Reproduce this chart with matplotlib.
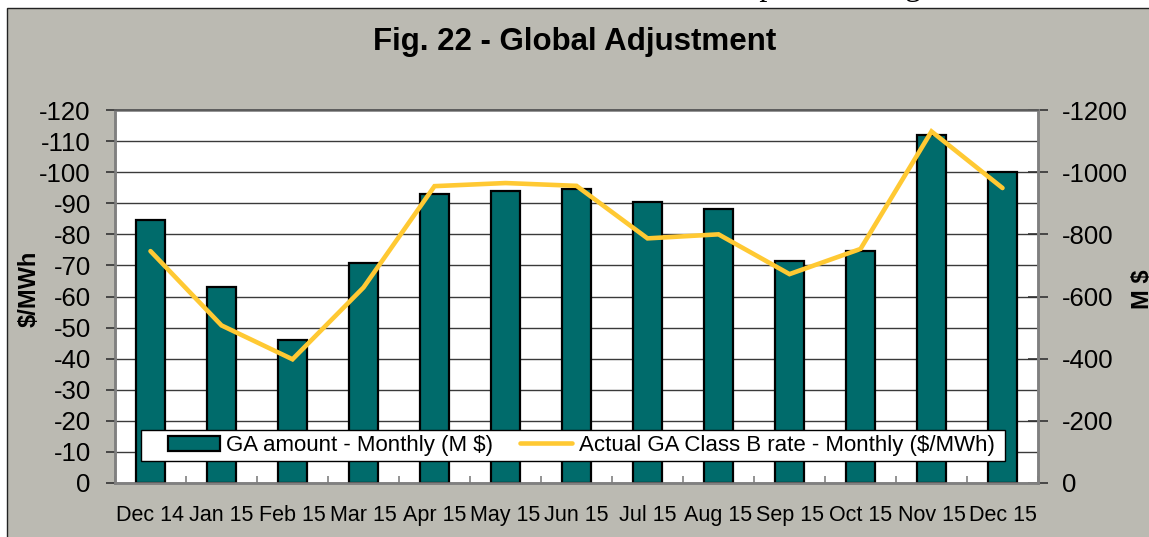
import matplotlib
matplotlib.use("Agg")
import matplotlib.pyplot as plt
import numpy as np
from matplotlib.patches import Rectangle

plt.rcParams['font.family'] = ['Liberation Sans', 'DejaVu Sans']
plt.rcParams['axes.unicode_minus'] = False

months = ["Dec 14", "Jan 15", "Feb 15", "Mar 15", "Apr 15", "May 15", "Jun 15",
          "Jul 15", "Aug 15", "Sep 15", "Oct 15", "Nov 15", "Dec 15"]
ga_amount = [-846, -630, -460, -708, -930, -940, -945, -905, -880, -715, -745, -1120, -1000]
ga_rate = [-74.6, -50.7, -39.8, -62.9, -95.5, -96.5, -95.6, -78.7, -80.0, -67.2, -75.3, -113.1, -94.9]
left_ticks = list(range(0, -121, -10))
right_ticks = list(range(0, -1201, -200))
right_minor = list(range(0, -1201, -100))
top_text = "e total GA amount and the actual Class B rate are depicted in Fig. 22."

W, H = 1149, 537
fig = plt.figure(figsize=(W / 100, H / 100), dpi=100)
fig.patch.set_facecolor('white')

# gray chart frame
frame = Rectangle((7 / W, -0.05), 1.1, (H - 8) / H + 0.05, transform=fig.transFigure,
                  facecolor='#BBBAB2', edgecolor='#222222', linewidth=1.0, zorder=-10)
fig.patches.append(frame)

# partial document text at top, mostly cut off
fig.text(90 / W, 1 + 5.0 / H, top_text, family='Liberation Serif', fontsize=23,
         va='baseline', ha='left', color='black')

rect = [115 / W, 1 - 483 / H, (1038 - 115) / W, (483 - 110) / H]
ax = fig.add_axes(rect)
axb = ax.twinx()
ax.set_zorder(5)
axb.set_zorder(1)
ax.patch.set_visible(False)
axb.patch.set_visible(True)
axb.patch.set_facecolor('white')

x = np.arange(len(months))

# bars on right axis
bars = axb.bar(x, ga_amount, width=0.41, color='#006B6B', edgecolor='black', linewidth=1.6,
               zorder=3, label='GA amount - Monthly (M $)')
axb.set_ylim(0, -1200)
axb.set_yticks(right_ticks)
axb.set_yticks(right_minor, minor=True)
axb.grid(True, which='both', axis='y', color='#3a3a3a', linewidth=1.0, zorder=0)
axb.set_axisbelow(True)
axb.tick_params(axis='y', which='major', direction='inout', length=14, width=1.2,
                labelsize=18.5, pad=10, colors='#333333', labelcolor='black')
axb.tick_params(axis='y', which='minor', length=0)
axb.set_ylabel('M $', fontsize=17, fontweight='bold', rotation=90)
axb.yaxis.set_label_coords(1.0 + (1131 - 1038) / 923, 0.52)

# line on left axis
line, = ax.plot(x, ga_rate, color='#FFC933', linewidth=3.3, solid_capstyle='round',
                solid_joinstyle='miter', zorder=5, label='Actual GA Class B rate - Monthly ($/MWh)')
ax.set_ylim(0, -120)
ax.set_yticks(left_ticks)
ax.tick_params(axis='y', direction='out', length=6.5, width=1.2, labelsize=18.5, pad=11,
               colors='#333333', labelcolor='black')
ax.set_ylabel('$/MWh', fontsize=17, fontweight='bold')
ax.yaxis.set_label_coords(-(115 - 41) / 923, 0.52)

ax.set_xlim(-0.5, len(months) - 0.5)
ax.set_xticks(x)
ax.set_xticklabels(months)
ax.set_xticks(np.arange(-0.5, len(months), 1), minor=True)
ax.tick_params(axis='x', which='major', length=0, labelsize=15.5, pad=16)
ax.tick_params(axis='x', which='minor', direction='in', length=5, width=1.2, colors='#808080')
axb.tick_params(axis='x', which='both', length=0)

for a in (ax, axb):
    for s in a.spines.values():
        s.set_color('#808080')
        s.set_linewidth(1.8)
ax.spines['top'].set_color('#555555')
ax.spines['top'].set_linewidth(1.2)

# legend box drawn manually, legend contents on top
lx0, lx1, ly0, ly1 = 141, 1005, 430, 461
ax.add_patch(Rectangle(((lx0 - 115) / 923, (483 - ly1) / 373), (lx1 - lx0) / 923, (ly1 - ly0) / 373,
                       transform=ax.transAxes, facecolor='white', edgecolor='black',
                       linewidth=1.0, zorder=9, clip_on=False))
leg = ax.legend([bars, line], ['GA amount - Monthly (M $)', 'Actual GA Class B rate - Monthly ($/MWh)'],
                loc='center left', bbox_to_anchor=((168 - 115) / 923, (483 - 445.5) / 373),
                ncol=2, fontsize=16, frameon=False,
                handlelength=2.35, handleheight=0.65, handletextpad=0.28, columnspacing=1.2,
                borderpad=0, borderaxespad=0)
leg.set_zorder(10)

fig.text(575 / W, 1 - 42 / H, 'Fig. 22 - Global Adjustment', fontsize=22.5, fontweight='bold',
         ha='center', va='center')

fig.savefig('out.png', dpi=100)
